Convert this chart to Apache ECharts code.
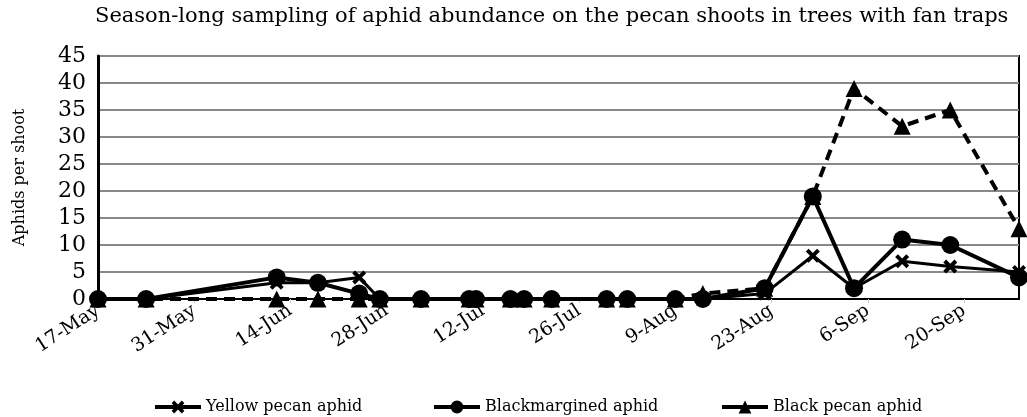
<!DOCTYPE html>
<html>
<head>
<meta charset="utf-8">
<script src="https://cdn.jsdelivr.net/npm/echarts@6/dist/echarts.min.js"></script>
<style>
  html, body { margin: 0; padding: 0; background: #fff; }
  #chart { width: 1027px; height: 417px; }
</style>
</head>
<body>
<div id="chart"></div>
<script>
// sampling dates and counts (aphids per shoot)
const startDate = '2013-05-17'
const endDate = '2013-09-28'
const sampleDates = ['2013-05-17', '2013-05-24', '2013-06-12', '2013-06-18', '2013-06-24', '2013-06-27',
  '2013-07-03', '2013-07-10', '2013-07-11', '2013-07-16', '2013-07-18', '2013-07-22', '2013-07-30',
  '2013-08-02', '2013-08-09', '2013-08-13', '2013-08-22', '2013-08-29', '2013-09-04', '2013-09-11',
  '2013-09-18', '2013-09-28']
const yellowPecan = [0, 0, 3, 3, 4, 0, 0, 0, 0, 0, 0, 0, 0, 0, 0, 0, 1, 8, 2, 7, 6, 5]
const blackmargined = [0, 0, 4, 3, 1, 0, 0, 0, 0, 0, 0, 0, 0, 0, 0, 0, 2, 19, 2, 11, 10, 4]
const blackPecan = [0, 0, 0, 0, 0, 0, 0, 0, 0, 0, 0, 0, 0, 0, 0, 1, 2, 19, 39, 32, 35, 13]
const seriesNames = ['Yellow pecan aphid', 'Blackmargined aphid', 'Black pecan aphid']
const yTicks = [0, 45, 5]
const monthNames = ['Jan', 'Feb', 'Mar', 'Apr', 'May', 'Jun', 'Jul', 'Aug', 'Sep', 'Oct', 'Nov', 'Dec']

const DAY = 86400000
const toDay = s => {
  const p = s.split('-').map(Number)
  const q = startDate.split('-').map(Number)
  return Math.round((Date.UTC(p[0], p[1] - 1, p[2]) - Date.UTC(q[0], q[1] - 1, q[2])) / DAY)
}
const dayLabel = v => {
  const q = startDate.split('-').map(Number)
  const d = new Date(Date.UTC(q[0], q[1] - 1, q[2]) + v * DAY)
  return d.getUTCDate() + '-' + monthNames[d.getUTCMonth()]
}
const pairs = vals => sampleDates.map((s, i) => [toDay(s), vals[i]])

const FONT = 'DejaVu Serif'
const crossPath = 'path://M2,0 L5,3 L8,0 L10,2 L7,5 L10,8 L8,10 L5,7 L2,10 L0,8 L3,5 L0,2 Z'

const chart = echarts.init(document.getElementById('chart'))
chart.setOption({
  animation: false,
  title: {
    text: 'Season-long sampling of aphid abundance on the pecan shoots in trees with fan traps',
    left: 90,
    top: 1,
    textStyle: { fontFamily: FONT, fontSize: 21, fontWeight: 'normal', color: '#000' }
  },
  legend: [0, 1, 2].map(i => ({
    data: [{ name: seriesNames[i], lineStyle: { type: 'solid', width: 4 } }],
    left: [148, 427, 715][i],
    top: 394,
    itemWidth: 46,
    itemHeight: 16,
    itemGap: 4,
    textStyle: { fontFamily: FONT, fontSize: 16, color: '#000' }
  })),
  grid: {
    left: 98,
    right: 8,
    top: 56,
    bottom: 118,
    show: true,
    borderColor: '#000',
    borderWidth: 2
  },
  xAxis: {
    type: 'value',
    min: 0,
    max: toDay(endDate),
    interval: 14,
    axisLine: { show: true, lineStyle: { color: '#000', width: 2 } },
    axisTick: { show: true, length: 4, lineStyle: { color: '#ccc' } },
    splitLine: { show: false },
    axisLabel: {
      rotate: 33,
      margin: 10,
      showMaxLabel: false,
      fontFamily: FONT,
      fontSize: 19,
      color: '#000',
      formatter: dayLabel
    }
  },
  yAxis: {
    type: 'value',
    min: yTicks[0],
    max: yTicks[1],
    interval: yTicks[2],
    name: 'Aphids per shoot',
    nameLocation: 'middle',
    nameGap: 70,
    nameTextStyle: { fontFamily: FONT, fontSize: 16, color: '#000' },
    axisLine: { show: true, lineStyle: { color: '#000', width: 3 } },
    axisTick: { show: false },
    splitLine: { lineStyle: { color: '#888', width: 2 } },
    axisLabel: { fontFamily: FONT, fontSize: 22, color: '#000', margin: 12 }
  },
  series: [
    {
      name: seriesNames[2],
      type: 'line',
      data: pairs(blackPecan),
      symbol: 'triangle',
      symbolSize: 17,
      lineStyle: { color: '#000', width: 4, type: [11, 7] },
      itemStyle: { color: '#000' }
    },
    {
      name: seriesNames[0],
      type: 'line',
      data: pairs(yellowPecan),
      symbol: crossPath,
      symbolSize: 14,
      lineStyle: { color: '#000', width: 3 },
      itemStyle: { color: '#000' }
    },
    {
      name: seriesNames[1],
      type: 'line',
      data: pairs(blackmargined),
      symbol: 'circle',
      symbolSize: 18,
      lineStyle: { color: '#000', width: 4 },
      itemStyle: { color: '#000' }
    }
  ]
})
</script>
</body>
</html>
